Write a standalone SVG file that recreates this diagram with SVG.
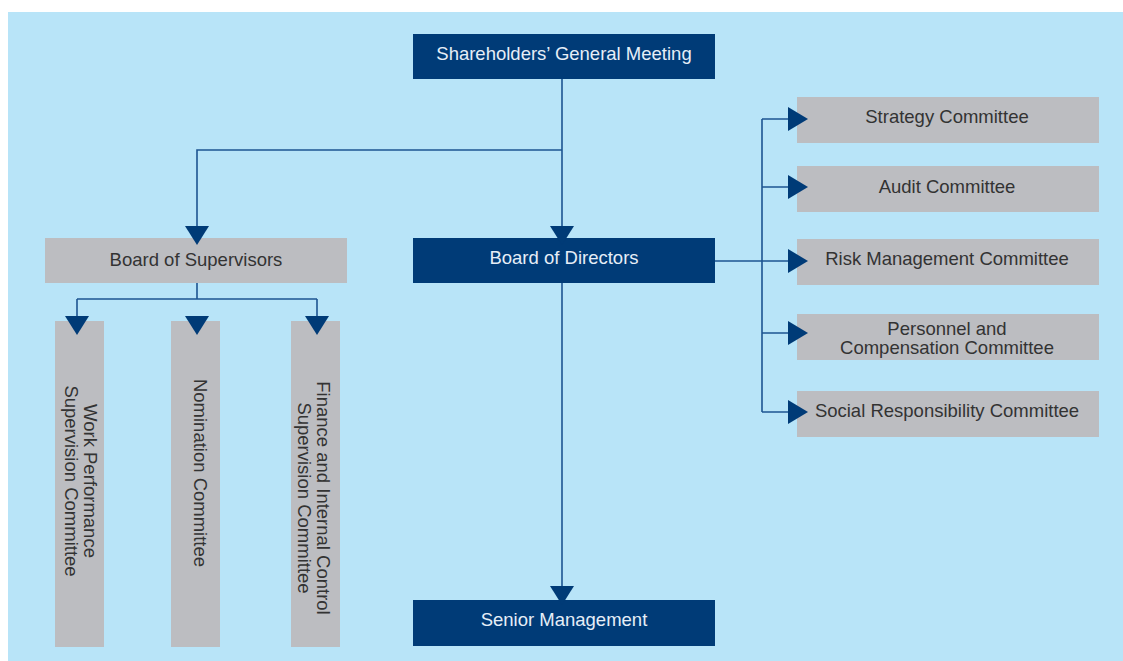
<svg xmlns="http://www.w3.org/2000/svg" width="1123" height="661" viewBox="0 0 1123 661">
<style>
.dark{fill:#003b77}
.grey{fill:#bcbdc1}
.tw{font-family:"Liberation Sans",Arial,sans-serif;font-size:18.5px;fill:#e6eef7;text-anchor:middle}
.tg{font-family:"Liberation Sans",Arial,sans-serif;font-size:18.5px;fill:#333333;text-anchor:middle}
.ln{stroke:#1d5491;stroke-width:1.6;fill:none}
.ah{fill:#003b77}
</style>
<rect x="8" y="12" width="1115" height="649" fill="#b8e4f8"/>
<g id="shareholders"><rect class="dark" x="413" y="34" width="302" height="45"/><text class="tw" x="564" y="59.5">Shareholders’ General Meeting</text></g>
<g id="board-directors"><rect class="dark" x="413" y="238" width="302" height="45"/><text class="tw" x="564" y="264">Board of Directors</text></g>
<g id="senior-management"><rect class="dark" x="413" y="600" width="302" height="46"/><text class="tw" x="564" y="626">Senior Management</text></g>
<g id="board-supervisors"><rect class="grey" x="45" y="238" width="302" height="45"/><text class="tg" x="196" y="265.5">Board of Supervisors</text></g>
<g id="work-performance"><rect class="grey" x="55" y="321" width="49" height="326"/><text class="tg" transform="translate(84,481) rotate(90)"><tspan x="0" y="0">Work Performance</tspan><tspan x="0" y="19">Supervision Committee</tspan></text></g>
<g id="nomination"><rect class="grey" x="171" y="321" width="49" height="326"/><text class="tg" transform="translate(194,473) rotate(90)">Nomination Committee</text></g>
<g id="finance-internal"><rect class="grey" x="291" y="321" width="49" height="326"/><text class="tg" transform="translate(317,498) rotate(90)"><tspan x="0" y="0">Finance and Internal Control</tspan><tspan x="0" y="19">Supervision Committee</tspan></text></g>
<g id="strategy"><rect class="grey" x="797" y="97" width="302" height="46"/><text class="tg" x="947" y="123.3">Strategy Committee</text></g>
<g id="audit"><rect class="grey" x="797" y="166" width="302" height="46"/><text class="tg" x="947" y="192.7">Audit Committee</text></g>
<g id="risk"><rect class="grey" x="797" y="239" width="302" height="46"/><text class="tg" x="947" y="265.3">Risk Management Committee</text></g>
<g id="personnel"><rect class="grey" x="797" y="314" width="302" height="46"/><text class="tg" x="947" y="334.5">Personnel and</text><text class="tg" x="947" y="353.5">Compensation Committee</text></g>
<g id="social"><rect class="grey" x="797" y="391" width="302" height="46"/><text class="tg" x="947" y="416.7">Social Responsibility Committee</text></g>
<g id="connectors">
<path class="ln" d="M562 79V232M562 150H197V232M197 283V299M77 299H317M77 299V320M317 299V320M562 283V590M715 261H792M762 119V412M762 119H792M762 187H792M762 333H792M762 412H792"/>
<polygon class="ah" points="185,226 209,226 197,245"/>
<polygon class="ah" points="550,226 574,226 562,245"/>
<polygon class="ah" points="65,316 89,316 77,335"/>
<polygon class="ah" points="185,316 209,316 197,335"/>
<polygon class="ah" points="305,316 329,316 317,335"/>
<polygon class="ah" points="550,586 574,586 562,605"/>
<polygon class="ah" points="788,107 788,131 808,119"/>
<polygon class="ah" points="788,175 788,199 808,187"/>
<polygon class="ah" points="788,249 788,273 808,261"/>
<polygon class="ah" points="788,321 788,345 808,333"/>
<polygon class="ah" points="788,400 788,424 808,412"/>
</g>
</svg>
